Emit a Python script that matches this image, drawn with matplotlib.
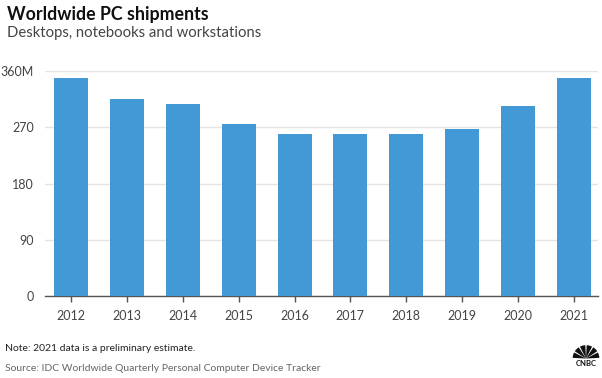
import matplotlib.pyplot as plt
from matplotlib.patches import Wedge

years = ['2012', '2013', '2014', '2015', '2016', '2017', '2018', '2019', '2020', '2021']
shipments = [349, 315, 308, 276, 260, 260, 259, 268, 304, 349]
yticks = [0, 90, 180, 270, 360]
ytick_labels = ['0', '90', '180', '270', '360M']

plt.rcParams['font.family'] = ['Lato', 'DejaVu Sans']

fig = plt.figure(figsize=(6.02, 3.78), dpi=100)
ax = fig.add_axes([0.0748, 0.217, 0.918, 0.595])

xi = list(range(len(years)))
ax.bar(xi, shipments, width=0.61, color='#4398d6', zorder=3)

ax.set_xlim(-0.47, 9.43)
ax.set_ylim(0, 360)
ax.set_yticks(yticks)
ax.set_yticklabels(ytick_labels)
ax.set_xticks(xi)
ax.set_xticklabels(years)
ax.grid(axis='y', color='#e4e4e4', linewidth=1, zorder=0)
for s in ['top', 'right', 'left']:
    ax.spines[s].set_visible(False)
ax.spines['bottom'].set_color('#555555')
ax.spines['bottom'].set_linewidth(1)
ax.tick_params(axis='y', length=0, pad=8, labelsize=9, labelcolor='#444444')
ax.tick_params(axis='x', length=4, width=1, color='#555555', pad=6, labelsize=9, labelcolor='#444444')

fig.text(0.012, 0.962, 'Worldwide PC shipments', fontsize=12.8, fontweight='bold', color='#111111', va='center')
fig.text(0.012, 0.912, 'Desktops, notebooks and workstations', fontsize=10.7, color='#444444', va='center')
fig.text(0.009, 0.077, 'Note: 2021 data is a preliminary estimate.', fontsize=7.5, color='#222222', va='center')
fig.text(0.009, 0.024, 'Source: IDC Worldwide Quarterly Personal Computer Device Tracker', fontsize=7.5, color='#666666', va='center')

# small peacock logo
lax = fig.add_axes([572 / 602, 5 / 378, 28 / 602, 34 / 378])
lax.set_xlim(-1.1, 1.1)
lax.set_ylim(-0.75, 1.15)
lax.set_aspect('equal')
lax.axis('off')
for k in range(6):
    a0 = k * 30
    lax.add_patch(Wedge((0, 0), 1.05, a0 + 3, a0 + 27, color='#111111', lw=0))
lax.text(0, -0.42, 'CNBC', fontsize=5.5, fontweight='bold', color='#111111', ha='center', va='center')

plt.savefig('out.png', format='png', dpi=100)
